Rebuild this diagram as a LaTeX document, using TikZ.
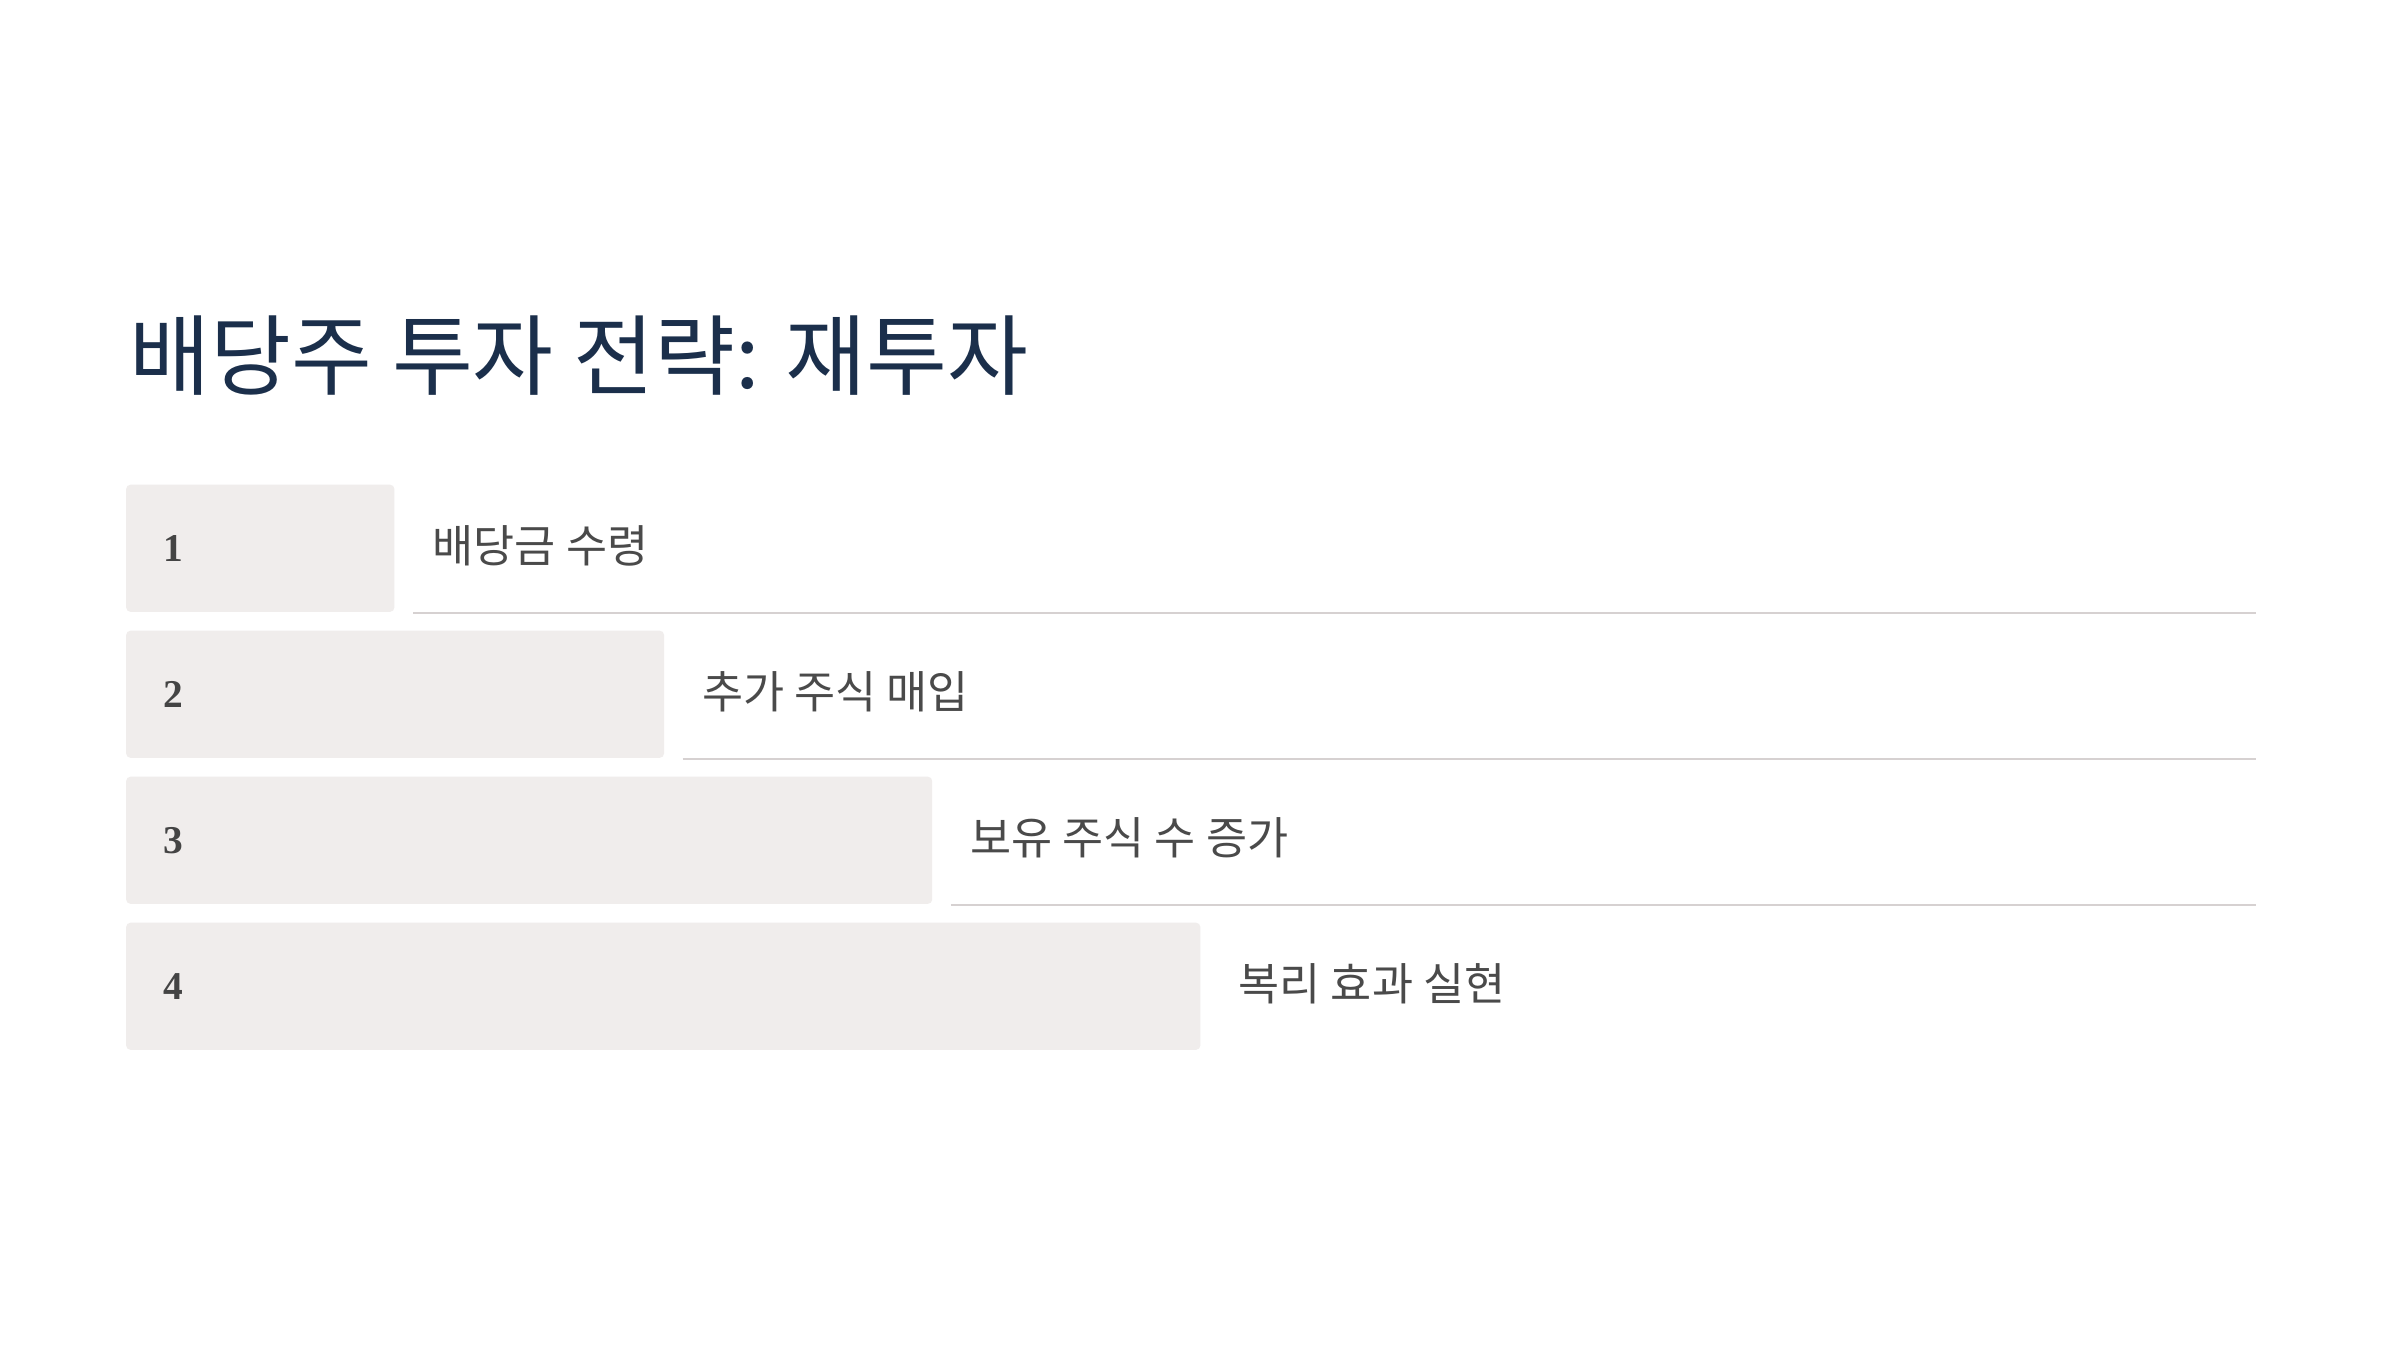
\documentclass[tikz,border=0pt]{standalone}
\usepackage{fontspec}
\newfontfamily\kr{Noto Sans CJK KR}
\newfontfamily\numfont{Liberation Serif}
\definecolor{titlec}{HTML}{1B2F4B}
\definecolor{labelc}{HTML}{4A4A4A}
\definecolor{numc}{HTML}{444444}
\definecolor{boxc}{HTML}{F0EDEC}
\definecolor{rulec}{HTML}{D6D1D1}
\begin{document}
\begin{tikzpicture}[x=0.01cm,y=-0.01cm,
  stepbox/.style={fill=boxc,draw=none,rounded corners=1.2pt,anchor=north west,inner sep=0pt,minimum height=1.27cm},
  numlabel/.style={anchor=west,inner sep=0pt,text=numc,font=\numfont\bfseries\fontsize{11.2pt}{13pt}\selectfont},
  steplabel/.style={anchor=west,inner sep=0pt,text=labelc,font=\kr\fontsize{12.7pt}{15pt}\selectfont},
  rule/.style={draw=rulec,line width=0.57pt}]
\useasboundingbox[fill=white] (0,0) rectangle (2400,1350);
\node[anchor=base west,inner sep=0pt,text=titlec,font=\kr\fontsize{25pt}{30pt}\selectfont] (title) at (129,388) {배당주 투자 전략: 재투자};
% boxes
\node[stepbox,minimum width=2.68cm] (b1) at (125.5,484) {};
\node[stepbox,minimum width=5.375cm] (b2) at (125.5,630) {};
\node[stepbox,minimum width=8.055cm] (b3) at (125.5,776) {};
\node[stepbox,minimum width=10.735cm] (b4) at (125.5,922) {};
% numbers
\node[numlabel] (n1) at ([xshift=0.37cm]b1.west) {1};
\node[numlabel] (n2) at ([xshift=0.37cm]b2.west) {2};
\node[numlabel] (n3) at ([xshift=0.37cm]b3.west) {3};
\node[numlabel] (n4) at ([xshift=0.37cm]b4.west) {4};
% labels
\node[steplabel] (l1) at ([xshift=0.37cm,yshift=0.02cm]b1.east) {배당금 수령};
\node[steplabel] (l2) at ([xshift=0.37cm,yshift=0.02cm]b2.east) {추가 주식 매입};
\node[steplabel] (l3) at ([xshift=0.37cm,yshift=0.02cm]b3.east) {보유 주식 수 증가};
\node[steplabel] (l4) at ([xshift=0.37cm,yshift=0.02cm]b4.east) {복리 효과 실현};
% rules
\coordinate (r1s) at ([xshift=0.18cm]b1.south east);
\coordinate (r1e) at (2256,611);
\coordinate (r2s) at ([xshift=0.18cm]b2.south east);
\coordinate (r2e) at (2256,757);
\coordinate (r3s) at ([xshift=0.18cm]b3.south east);
\coordinate (r3e) at (2256,903);
\draw[rule] (r1s) -- (r1s -| r1e);
\draw[rule] (r2s) -- (r2s -| r2e);
\draw[rule] (r3s) -- (r3s -| r3e);
\end{tikzpicture}
\end{document}
